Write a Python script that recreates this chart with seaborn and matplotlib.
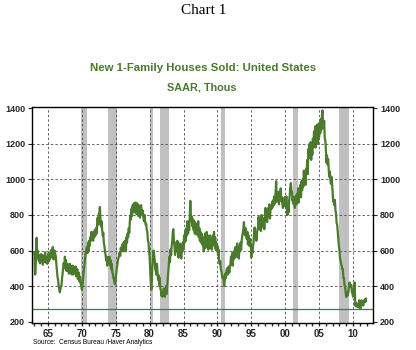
import numpy as np
import pandas as pd
import matplotlib
matplotlib.use("Agg")
import matplotlib.pyplot as plt
import seaborn as sns

# Monthly new 1-family houses sold, SAAR, thousands
start_year = 1963
sales = [
    # 1963
    591, 464, 470, 605, 672, 560, 598, 553, 540, 575, 528, 555,
    # 1964
    580, 545, 575, 520, 570, 540, 535, 590, 545, 530, 565, 525,
    # 1965
    560, 585, 540, 575, 555, 600, 580, 565, 615, 620, 550, 595,
    # 1966
    600, 580, 565, 520, 485, 450, 435, 400, 385, 365, 380, 395,
    # 1967
    405, 445, 470, 505, 530, 500, 565, 515, 545, 485, 515, 525,
    # 1968
    495, 470, 500, 525, 475, 510, 465, 495, 515, 465, 490, 505,
    # 1969
    475, 510, 455, 475, 495, 440, 460, 475, 425, 450, 415, 400,
    # 1970
    380, 395, 435, 470, 505, 530, 565, 590, 605, 620, 585, 645,
    # 1971
    600, 655, 625, 675, 655, 705, 675, 695, 655, 705, 675, 715,
    # 1972
    685, 725, 695, 745, 785, 745, 805, 810, 845, 770, 735, 765,
    # 1973
    715, 685, 700, 640, 625, 595, 575, 545, 565, 515, 545, 560,
    # 1974
    540, 565, 515, 545, 495, 525, 475, 470, 445, 435, 415, 410,
    # 1975
    445, 470, 505, 520, 545, 560, 575, 590, 570, 615, 600, 625,
    # 1976
    635, 595, 645, 605, 655, 640, 595, 675, 645, 695, 675, 725,
    # 1977
    700, 765, 800, 775, 835, 795, 855, 825, 865, 815, 845, 870,
    # 1978
    845, 805, 865, 825, 795, 855, 815, 785, 835, 855, 805, 800,
    # 1979
    825, 785, 765, 800, 765, 745, 750, 715, 705, 655, 645, 600,
    # 1980
    565, 495, 420, 380, 435, 520, 565, 600, 575, 545, 495, 485,
    # 1981
    465, 525, 475, 435, 460, 405, 445, 385, 375, 345, 365, 340,
    # 1982
    350, 385, 350, 340, 375, 400, 355, 395, 430, 475, 520, 565,
    # 1983
    535, 605, 575, 625, 650, 705, 720, 655, 625, 575, 605, 645,
    # 1984
    595, 655, 615, 560, 605, 640, 585, 615, 555, 635, 595, 645,
    # 1985
    615, 685, 645, 705, 655, 725, 685, 765, 695, 745, 715, 785,
    # 1986
    880, 795, 765, 790, 735, 775, 715, 765, 695, 755, 715, 690,
    # 1987
    745, 695, 765, 675, 725, 655, 705, 645, 695, 635, 675, 625,
    # 1988
    595, 655, 695, 615, 665, 705, 635, 685, 605, 665, 635, 685,
    # 1989
    615, 665, 605, 645, 685, 645, 705, 625, 675, 605, 645, 600,
    # 1990
    625, 575, 605, 545, 525, 540, 495, 485, 465, 445, 455, 430,
    # 1991
    400, 435, 470, 445, 485, 500, 465, 495, 510, 475, 505, 520,
    # 1992
    565, 535, 585, 515, 555, 595, 555, 605, 620, 565, 595, 640,
    # 1993
    565, 605, 555, 625, 595, 645, 605, 655, 685, 700, 725, 760,
    # 1994
    695, 685, 725, 685, 665, 705, 635, 685, 645, 625, 665, 640,
    # 1995
    560, 605, 585, 625, 645, 705, 730, 675, 705, 655, 695, 720,
    # 1996
    730, 790, 720, 780, 730, 710, 800, 740, 770, 730, 780, 720,
    # 1997
    800, 840, 770, 790, 760, 810, 840, 790, 860, 780, 830, 850,
    # 1998
    835, 875, 845, 885, 855, 905, 865, 925, 990, 875, 915, 930,
    # 1999
    910, 860, 930, 880, 950, 890, 900, 860, 840, 890, 850, 900,
    # 2000
    875, 845, 905, 825, 800, 865, 815, 885, 910, 955, 980, 935,
    # 2001
    930, 880, 900, 860, 900, 840, 870, 910, 860, 920, 880, 950,
    # 2002
    870, 940, 920, 970, 900, 990, 940, 1000, 960, 1050, 990, 1030,
    # 2003
    970, 1060, 1040, 1110, 1030, 1170, 1140, 1200, 1120, 1210, 1110, 1190,
    # 2004
    1140, 1230, 1180, 1270, 1200, 1300, 1180, 1280, 1220, 1310, 1200, 1290,
    # 2005
    1240, 1320, 1260, 1340, 1280, 1360, 1389, 1310, 1290, 1330, 1230, 1220,
    # 2006
    1165, 1095, 1135, 1085, 1115, 1055, 1015, 1045, 995, 975, 1015, 975,
    # 2007
    925, 875, 875, 855, 885, 825, 805, 755, 745, 705, 665, 625,
    # 2008
    605, 555, 545, 525, 515, 495, 495, 445, 445, 405, 395, 365,
    # 2009
    338, 365, 345, 350, 370, 405, 420, 405, 395, 405, 365, 360,
    # 2010
    340, 355, 405, 420, 290, 305, 285, 285, 300, 280, 295, 320,
    # 2011
    300, 273, 305, 320, 300, 315, 290, 305, 310, 325, 310, 330,
]

# NBER recessions (start, end) as decimal years
recession_starts = [1969.92, 1973.83, 1980.0, 1981.5, 1990.5, 2001.17, 2007.92]
recession_ends = [1970.83, 1975.17, 1980.5, 1982.83, 1991.17, 2001.83, 2009.42]

ref_level = 273  # horizontal reference line (series low)

x_ticks = [1965, 1970, 1975, 1980, 1985, 1990, 1995, 2000, 2005, 2010]
x_ticklabels = ["65", "70", "75", "80", "85", "90", "95", "00", "05", "10"]
y_ticks = [200, 400, 600, 800, 1000, 1200, 1400]

GREEN = "#4a7a2c"

dates = [start_year + i / 12.0 for i in range(len(sales))]
df = pd.DataFrame({"date": dates, "sales": sales})

sns.set_theme(style="white")
plt.rcParams["font.family"] = ["Liberation Sans", "DejaVu Sans"]

fig = plt.figure(figsize=(4.16, 3.5), dpi=100)
ax = fig.add_axes([32 / 416, 1 - 323 / 350, (373 - 32) / 416, (323 - 107) / 350])

for s, e in zip(recession_starts, recession_ends):
    ax.axvspan(s, e, color="#c0c0c0", lw=0, zorder=0)

for xt in x_ticks:
    ax.axvline(xt, color="#505050", lw=0.6, ls=(0, (3, 2.5)), zorder=1)
for yt in y_ticks[1:-1]:
    ax.axhline(yt, color="#505050", lw=0.6, ls=(0, (3, 2.5)), zorder=1)

ax.axhline(ref_level, color=GREEN, lw=0.9, zorder=2)

sns.lineplot(data=df, x="date", y="sales", ax=ax, color=GREEN, lw=1.6, zorder=3)

ax.set_xlim(1962.65, 2012.95)
ax.set_ylim(192, 1408)
ax.set_xlabel("")
ax.set_ylabel("")

ax.set_xticks(x_ticks)
ax.set_xticklabels(x_ticklabels, fontsize=7, fontweight="bold")
ax.set_xticks(np.arange(1963, 2013), minor=True)
ax.set_yticks(y_ticks)
ax.set_yticklabels([str(v) for v in y_ticks], fontsize=6.5, fontweight="bold")
ax.tick_params(axis="x", which="major", bottom=True, direction="out", length=2, width=1, pad=2)
ax.tick_params(axis="x", which="minor", bottom=True, direction="out", length=2, width=1)
ax.tick_params(axis="y", which="major", left=True, right=True, labelleft=True,
               labelright=True, direction="out", length=3, width=0.8, pad=2)

for sp in ax.spines.values():
    sp.set_color("black")
    sp.set_linewidth(1.0)

fig.text(0.49, 1 - 11 / 350, "Chart 1", ha="center", va="center",
         fontsize=11, family=["Liberation Serif", "DejaVu Serif"], color="black")
fig.text(0.489, 1 - 68 / 350, "New 1-Family Houses Sold: United States", ha="center",
         va="center", fontsize=8.2, fontweight="bold", color=GREEN)
fig.text(0.486, 1 - 88 / 350, "SAAR, Thous", ha="center", va="center",
         fontsize=7.8, fontweight="bold", color=GREEN)
fig.text(33 / 416, 1 - 343 / 350, "Source:  Census Bureau /Haver Analytics", ha="left",
         va="center", fontsize=4.7, color="black")

fig.savefig("out.png", dpi=100)
